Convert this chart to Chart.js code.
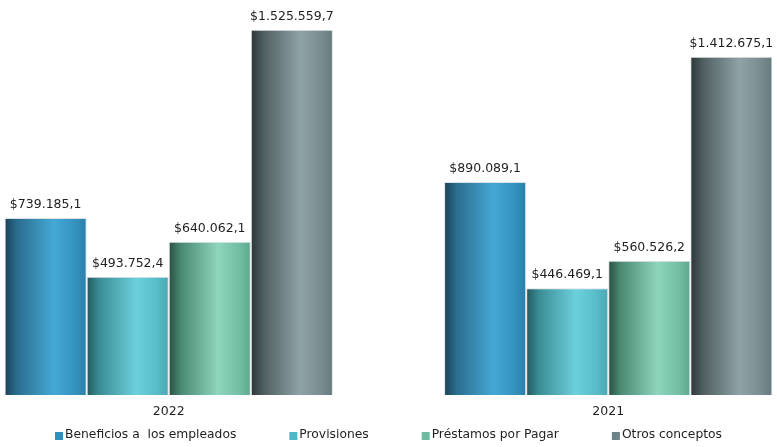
<!DOCTYPE html>
<html>
<head>
<meta charset="utf-8">
<script src="https://cdn.jsdelivr.net/npm/chart.js@4"></script>
<style>
  html, body { margin: 0; padding: 0; background: #fff; overflow: hidden; }
  #wrap { position: absolute; left: -51px; top: 0; width: 879px; height: 447px; }
</style>
</head>
<body>
<div id="wrap"><canvas id="chart"></canvas></div>
<script>
// datos
var years = ['2022', '2021'];
var seriesNames = ['Beneficios a  los empleados', 'Provisiones', 'Préstamos por Pagar', 'Otros conceptos'];
var beneficios = [739185.1, 890089.1];
var provisiones = [493752.4, 446469.1];
var prestamos = [640062.1, 560526.2];
var otros = [1525559.7, 1412675.1];

var FONT = '"DejaVu Sans", sans-serif';

// degradados tipo cilindro
var stops = [
    ['#1a4258', '#2a6d8e', '#45a8d5', '#3593c0', '#2a7fa8'],
    ['#22575c', '#3a8c94', '#6ccfdc', '#58bcc9', '#4aa8b4'],
    ['#2a4f42', '#4a8a72', '#8ed5bc', '#74c0a4', '#5da88c'],
    ['#2c3436', '#4f5e61', '#8fa2a6', '#7a8d91', '#66797d']
];
var legendColors = ['#2f8fbd', '#4db7c6', '#6dbb9e', '#6e8387'];
var CAT_PCT = 0.747;

function money(v) {
    var parts = v.toFixed(1).split('.');
    var ent = parts[0].replace(/\B(?=(\d{3})+(?!\d))/g, '.');
    return '$' + ent + ',' + parts[1];
}

function barFill(ctx) {
    var chart = ctx.chart;
    var x = chart.scales.x;
    if (!chart.chartArea || !x) return legendColors[ctx.datasetIndex];
    var center = x.getPixelForValue(ctx.dataIndex);
    var catW = (x.width / years.length) * CAT_PCT;
    var barW = catW / seriesNames.length;
    var left = center - catW / 2 + ctx.datasetIndex * barW;
    var g = chart.ctx.createLinearGradient(left, 0, left + barW, 0);
    var s = stops[ctx.datasetIndex];
    g.addColorStop(0, s[0]);
    g.addColorStop(0.15, s[1]);
    g.addColorStop(0.6, s[2]);
    g.addColorStop(0.85, s[3]);
    g.addColorStop(1, s[4]);
    return g;
}

// etiquetas de valor encima de las barras
var valueLabels = {
    id: 'valueLabels',
    afterDatasetsDraw: function(chart) {
        var c = chart.ctx;
        c.save();
        c.font = '12.5px ' + FONT;
        c.fillStyle = '#1f1f1f';
        c.textAlign = 'center';
        c.textBaseline = 'bottom';
        chart.data.datasets.forEach(function(ds, i) {
            chart.getDatasetMeta(i).data.forEach(function(bar, j) {
                c.fillText(money(ds.data[j]), bar.x, bar.y - 7);
            });
        });
        c.restore();
    }
};

// leyenda abajo
var bottomLegend = {
    id: 'bottomLegend',
    afterDraw: function(chart) {
        var c = chart.ctx;
        c.save();
        c.font = '12.3px ' + FONT;
        var box = 8, gap = 2, pad = 53;
        var widths = seriesNames.map(function(t) { return box + gap + c.measureText(t).width; });
        var total = widths.reduce(function(a, b) { return a + b; }, 0) + pad * (widths.length - 1);
        var x = chart.width / 2 - total / 2;
        var y = 435;
        c.textBaseline = 'middle';
        c.textAlign = 'left';
        seriesNames.forEach(function(t, i) {
            c.fillStyle = legendColors[i];
            c.fillRect(x, y - 3, box, box);
            c.fillStyle = '#1f1f1f';
            c.fillText(t, x + box + gap, y);
            x += widths[i] + pad;
        });
        c.restore();
    }
};

var data = [beneficios, provisiones, prestamos, otros];

new Chart(document.getElementById('chart'), {
    type: 'bar',
    data: {
        labels: years,
        datasets: data.map(function(d, i) {
            return {
                label: seriesNames[i],
                data: d,
                backgroundColor: barFill,
                borderColor: 'rgba(205,212,215,0.7)',
                borderWidth: 1,
                categoryPercentage: CAT_PCT,
                barPercentage: 1
            };
        })
    },
    options: {
        responsive: true,
        maintainAspectRatio: false,
        animation: false,
        layout: { padding: { top: 12, bottom: 27, left: 0, right: 0 } },
        plugins: {
            legend: { display: false },
            tooltip: { enabled: false }
        },
        scales: {
            x: {
                grid: { display: false },
                border: { display: false },
                ticks: { color: '#1f1f1f', font: { family: FONT, size: 12.5 }, padding: 1 }
            },
            y: {
                display: false,
                min: 0,
                max: 1600000
            }
        }
    },
    plugins: [valueLabels, bottomLegend]
});
</script>
</body>
</html>
